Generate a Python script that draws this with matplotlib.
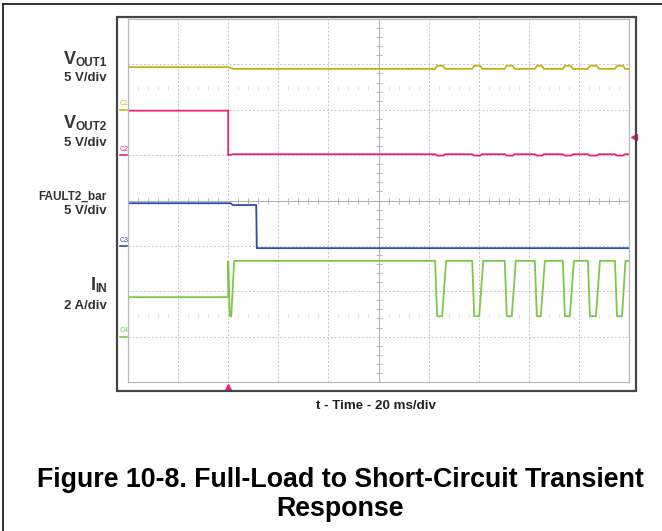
import matplotlib.pyplot as plt
from matplotlib.patches import Rectangle
from matplotlib.lines import Line2D

plt.rcParams['font.family'] = ['Liberation Sans', 'DejaVu Sans']

W, H = 662, 531

# traces, x in divisions (20 ms/div), y in divisions from the bottom of the screen
vout1_t = [0.00, 2.00, 2.10, 6.13, 6.17, 6.29, 6.33, 6.87, 6.91, 7.03, 7.07,
           7.52, 7.56, 7.68, 7.72, 8.12, 8.16, 8.26, 8.30, 8.68, 8.72, 8.84, 8.88,
           9.18, 9.22, 9.36, 9.40, 9.72, 9.76, 9.88, 9.92, 10.0]
vout1_v = [6.94, 6.94, 6.90, 6.90, 6.97, 6.97, 6.90, 6.90, 6.97, 6.97, 6.90,
           6.90, 6.97, 6.97, 6.90, 6.90, 6.97, 6.97, 6.90, 6.90, 6.97, 6.97, 6.90,
           6.90, 6.97, 6.97, 6.90, 6.90, 6.97, 6.97, 6.90, 6.90]

vout2_t = [0.00, 2.00, 2.00, 2.10, 6.13, 6.17, 6.29, 6.33, 6.87, 6.91, 7.03, 7.07,
           7.52, 7.56, 7.68, 7.72, 8.12, 8.16, 8.26, 8.30, 8.68, 8.72, 8.84, 8.88,
           9.18, 9.22, 9.36, 9.40, 9.72, 9.76, 9.88, 9.92, 10.0]
vout2_v = [5.98, 5.98, 5.00, 5.02, 5.02, 4.99, 4.99, 5.02, 5.02, 4.99, 4.99, 5.02,
           5.02, 4.99, 4.99, 5.02, 5.02, 4.99, 4.99, 5.02, 5.02, 4.99, 4.99, 5.02,
           5.02, 4.99, 4.99, 5.02, 5.02, 4.99, 4.99, 5.02, 5.02]

fault_t = [0.00, 2.05, 2.09, 2.56, 2.57, 10.0]
fault_v = [3.94, 3.94, 3.90, 3.90, 2.95, 2.95]

iin_t = [0.00, 2.00, 2.00, 2.03, 2.06, 2.12,
         6.13, 6.17, 6.27, 6.35, 6.87, 6.91, 7.01, 7.09,
         7.52, 7.56, 7.66, 7.74, 8.12, 8.16, 8.24, 8.32,
         8.68, 8.72, 8.82, 8.90, 9.18, 9.22, 9.34, 9.42,
         9.72, 9.76, 9.86, 9.93, 10.0]
iin_v = [1.87, 1.87, 2.66, 1.45, 1.45, 2.67,
         2.67, 1.45, 1.45, 2.67, 2.67, 1.45, 1.45, 2.67,
         2.67, 1.45, 1.45, 2.67, 2.67, 1.45, 1.45, 2.67,
         2.67, 1.45, 1.45, 2.67, 2.67, 1.45, 1.45, 2.67,
         2.67, 1.45, 1.45, 2.67, 2.67]

ch_names = ['C1', 'C2', 'C3', 'C4']
ch_ground = [6.0, 5.0, 3.0, 1.0]
ch_colors = ['#c8b414', '#e8247c', '#2c4ea8', '#7cc84a']

# label: (main letters, subscript) and scale text
labels_main = ['V', 'V', 'FAULT2_bar', 'I']
labels_sub = ['OUT1', 'OUT2', '', 'IN']
labels_scale = ['5 V/div', '5 V/div', '5 V/div', '2 A/div']

fig = plt.figure(figsize=(W / 100, H / 100), dpi=100)
renderer = fig.canvas.get_renderer()


def fx(x):
    return x / W


def fy(y):
    return 1 - y / H


# page border (top and left)
fig.add_artist(Line2D([fx(3), fx(662)], [fy(4), fy(4)], color='#222222', lw=1.3))
fig.add_artist(Line2D([fx(3), fx(3)], [fy(4), fy(531)], color='#222222', lw=1.3))

# scope frame
fig.add_artist(Rectangle((fx(117), fy(391)), fx(636) - fx(117), fy(17) - fy(391),
                         fill=False, edgecolor='#444444', lw=1.6))

ax = fig.add_axes([fx(128), fy(382), fx(629) - fx(128), fy(19) - fy(382)])
ax.set_xlim(0, 10)
ax.set_ylim(0, 8)
ax.set_xticks([])
ax.set_yticks([])
for s in ax.spines.values():
    s.set_color('#b8b8b8')
    s.set_linewidth(0.9)

# graticule
for i in range(1, 10):
    if i == 5:
        ax.axvline(i, color='#b4b4b4', lw=0.8)
    else:
        ax.axvline(i, color='#c4c4c4', lw=0.7, ls=(0, (2, 2)))
for j in range(1, 8):
    if j == 4:
        ax.axhline(j, color='#b4b4b4', lw=0.8)
    else:
        ax.axhline(j, color='#c4c4c4', lw=0.7, ls=(0, (2, 2)))

minor = [k / 5 for k in range(1, 50) if k % 5]
ax.plot(minor, [4] * len(minor), ls='none', marker='|', ms=5, mew=0.7, color='#b4b4b4')
minor_y = [k / 5 for k in range(1, 40) if k % 5]
ax.plot([5] * len(minor_y), minor_y, ls='none', marker='_', ms=5, mew=0.7, color='#b4b4b4')

# faint readout dots
ax.plot(minor, [6.48] * len(minor), ls='none', marker='|', ms=2.5, mew=0.6, color='#dedede')
ax.plot(minor, [1.45] * len(minor), ls='none', marker='|', ms=2.5, mew=0.6, color='#dedede')

# traces
ax.plot(vout1_t, vout1_v, color=ch_colors[0], lw=1.3)
ax.plot(vout2_t, vout2_v, color=ch_colors[1], lw=1.3)
ax.plot(fault_t, fault_v, color=ch_colors[2], lw=1.3)
ax.plot(iin_t, iin_v, color=ch_colors[3], lw=1.3)

# channel ground markers
for name, g, c in zip(ch_names, ch_ground, ch_colors):
    ax.plot([-0.16, -0.01], [g, g], color=c, lw=1.2, clip_on=False)
    ax.text(-0.17, g + 0.05, name, color=c, fontsize=5, ha='left', va='bottom')

# trigger markers
ax.plot([2.0], [-0.12], marker='^', ms=4, color='#e8247c', clip_on=False)
ax.plot([10.09], [5.4], marker='<', ms=4, color='#e8247c', clip_on=False)

# channel labels
lab_color = '#333333'
main_y = [64, 128, 200, 290]
scale_y = [81, 146, 214, 309]
main_fs = [13, 13, 8.5, 13]
for main, sub, y, fs in zip(labels_main, labels_sub, main_y, main_fs):
    right = 107
    if sub:
        t = fig.text(fx(right), fy(y + 2), sub, ha='right', va='baseline',
                     fontsize=8.5, fontweight='bold', color=lab_color)
        right -= t.get_window_extent(renderer).width
    fig.text(fx(right), fy(y), main, ha='right', va='baseline', fontsize=fs,
             fontweight='bold', color=lab_color)
for txt, y in zip(labels_scale, scale_y):
    fig.text(fx(107), fy(y), txt, ha='right', va='baseline', fontsize=9.5,
             fontweight='bold', color=lab_color)

fig.text(fx(376), fy(409), 't - Time - 20 ms/div', ha='center', va='baseline',
         fontsize=9.6, fontweight='bold', color='#222222')

fig.text(fx(340), fy(487), 'Figure 10-8. Full-Load to Short-Circuit Transient', ha='center',
         va='baseline', fontsize=19.3, fontweight='bold', color='black')
fig.text(fx(340), fy(516), 'Response', ha='center', va='baseline',
         fontsize=19.3, fontweight='bold', color='black')

fig.savefig('out.png', dpi=100)
